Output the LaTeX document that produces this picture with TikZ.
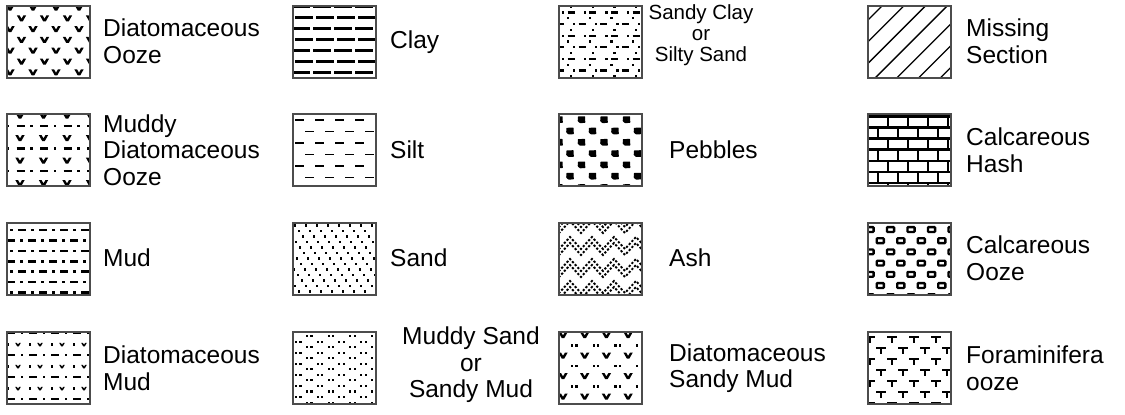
\documentclass[tikz,border=0pt]{standalone}
\usepackage{fontspec}
\setmainfont{Liberation Sans}
\newcommand\bigV[2]{\fill[shift={({#1},{#2})}] (-4.7,-3) -- (-2,-3) -- (0,0.4) -- (2,-3) -- (4.7,-3) -- (1.3,3) -- (-1.3,3) -- cycle;}
\newcommand\smallV[2]{\fill[shift={({#1},{#2})}] (-2.8,-1.6) -- (-1.2,-1.6) -- (0,0.1) -- (1.2,-1.6) -- (2.8,-1.6) -- (0.8,1.8) -- (-0.8,1.8) -- cycle;}
\newcommand\sq[3]{\fill ({#1-#3/2},{#2-#3/2}) rectangle ({#1+#3/2},{#2+#3/2});}
\newcommand\hdash[4]{\draw[line width=#4] ({#1},{#3}) -- ({#2},{#3});}
\newcommand\patin[2]{%
  \begin{scope}
    \clip (#1.north west) rectangle (#1.south east);
    \begin{scope}[shift={(#1.north west)}]#2\end{scope}
  \end{scope}
  \draw[border] (#1.north west) rectangle (#1.south east);}
\tikzset{
  swatch/.style={minimum width=83pt, minimum height=72pt, inner sep=0pt, outer sep=0pt, anchor=north west},
  border/.style={draw=black!70, line width=1.1pt},
  lbl/.style={font=\fontsize{24.5}{26.5}\selectfont, inner sep=0pt, anchor=west, align=left},
  lblc/.style={font=\fontsize{24.5}{26.5}\selectfont, inner sep=0pt, align=center},
  ashline/.style={line width=1.9pt, dash pattern=on 2.2pt off 1.8pt},
}
\begin{document}
\begin{tikzpicture}[x=1pt, y=-1pt]
\useasboundingbox (0,0) rectangle (1125,415);
% swatches
\node[swatch] (s11) at (7,6) {};
\node[swatch] (s12) at (7,114) {};
\node[swatch] (s13) at (7,223) {};
\node[swatch] (s14) at (7,332) {};
\node[swatch] (s21) at (293,6) {};
\node[swatch] (s22) at (293,114) {};
\node[swatch] (s23) at (293,223) {};
\node[swatch] (s24) at (293,332) {};
\node[swatch] (s31) at (559,6) {};
\node[swatch] (s32) at (559,114) {};
\node[swatch] (s33) at (559,223) {};
\node[swatch] (s34) at (559,332) {};
\node[swatch] (s41) at (868,6) {};
\node[swatch] (s42) at (868,114) {};
\node[swatch] (s43) at (868,223) {};
\node[swatch] (s44) at (868,332) {};
% Diatomaceous Ooze
\patin{s11}{\foreach \j in {0,...,7}{\foreach \i in {-1,...,4}{\bigV{\i*23+mod(\j,2)*11.5+3}{\j*10.8+1.5}}}}
% Muddy Diatomaceous Ooze
\patin{s12}{%
  \foreach \j in {0,...,3}{\foreach \i in {-1,...,3}{\bigV{\i*23.5+13}{\j*22.5+1.5}}}
  \foreach \j in {0,1,2}{\foreach \i in {-1,...,3}{\hdash{\i*23.5+9.5}{\i*23.5+17.5}{\j*22.5+12}{2.4pt}\sq{\i*23.5+24.5}{\j*22.5+12}{2.4}}}}
% Mud
\patin{s13}{\foreach \j in {0,...,7}{\foreach \i in {-1,...,4}{%
  \hdash{\i*21+mod(\j,2)*11}{\i*21+mod(\j,2)*11+8}{\j*10.4-3.4}{2.6pt}
  \sq{\i*21+mod(\j,2)*11+14.5}{\j*10.4-3.4}{2.6}}}}
% Diatomaceous Mud
\patin{s14}{%
  \foreach \k in {0,...,3}{\foreach \i in {-1,...,4}{\hdash{\i*22}{\i*22+8}{\k*22+1}{2.4pt}\sq{\i*22+15}{\k*22+1}{2.4}}}
  \foreach \k in {0,1,2}{\foreach \i in {-1,...,4}{\smallV{\i*22+11}{\k*22+12.5}\sq{\i*22+1}{\k*22+12.5}{2.2}}}}
% Clay
\patin{s21}{\foreach \j in {0,...,6}{\foreach \i in {-1,...,4}{%
  \hdash{\i*21+mod(\j,2)*3-1}{\i*21+mod(\j,2)*3+16.5}{\j*11+0.7}{2.5pt}}}}
% Silt
\patin{s22}{\foreach \j in {0,...,6}{\foreach \i in {-1,...,4}{%
  \hdash{\i*20+mod(\j,2)*10+2}{\i*20+mod(\j,2)*10+11}{\j*11.5+6}{1.3pt}}}}
% Sand
\patin{s23}{\foreach \j in {0,...,13}{\foreach \i in {-1,...,7}{\sq{\i*11+mod(\j*4,11)+2}{\j*5.5+2.5}{2.1}}}}
% Muddy Sand
\patin{s24}{\foreach \j in {0,...,12}{\foreach \i in {-1,...,4}{%
  \sq{\i*21.7+mod(\j+1,2)*11+3}{\j*5.55+4}{2.1}\sq{\i*21.7+mod(\j+1,2)*11+7.5}{\j*5.55+4}{2.1}}}}
% Sandy Clay
\patin{s31}{%
  \foreach \j in {0,2,...,12}{\foreach \i in {-1,...,4}{\sq{\i*21.7+12-mod(\j,4)*1.5}{\j*5.8+0.7}{2.2}}}
  \foreach \j in {1,3,...,11}{\foreach \i in {-1,...,4}{%
    \sq{\i*21.7+4+mod(\j-1,4)*5.5}{\j*5.8+0.7}{2.2}
    \hdash{\i*21.7+8.5+mod(\j-1,4)*5.5}{\i*21.7+15.5+mod(\j-1,4)*5.5}{\j*5.8+0.7}{2.2pt}}}}
% Pebbles
\patin{s32}{\foreach \j in {0,...,7}{\foreach \i in {-1,...,4}{%
  \fill[rounded corners=0.5pt, shift={({\i*22.5+11-mod(\j,2)*11},{\j*11.3-5.6})}] (-3.6,-3.2) -- (3.6,-3.4) -- (3.8,3.2) -- (-1.6,3.4) -- (-3.8,1.4) -- cycle;}}}
% Ash
\patin{s33}{\foreach \k in {0,...,4}{%
  \draw[ashline] (-22,{\k*22-8+12}) \foreach \i in {0,...,5}{ -- ({-22+22*\i+11},{\k*22-8}) -- ({-22+22*\i+22},{\k*22-8+12}) };
  \draw[ashline] (-22,{\k*22-2+12}) \foreach \i in {0,...,5}{ -- ({-22+22*\i+11},{\k*22-2}) -- ({-22+22*\i+22},{\k*22-2+12}) };}}
% Diatomaceous Sandy Mud
\patin{s34}{%
  \foreach \k in {0,...,3}{\foreach \i in {-1,...,4}{\bigV{\i*21.7+4}{\k*20.5+3}}}
  \foreach \k in {0,1,2}{\foreach \i in {-1,...,4}{\sq{\i*21.7+13}{\k*20.5+13.5}{2.2}\sq{\i*21.7+17.5}{\k*20.5+13.5}{2.2}}}}
% Missing Section
\patin{s41}{\foreach \k in {-1,...,7}{\draw[line width=1.3pt] ({14+21.7*\k-80},80) -- ({14+21.7*\k+5},-5);}}
% Calcareous Hash
\patin{s42}{%
  \foreach \j in {0,...,6}{\draw[line width=2.4pt] (-2,{2.3+11.1*\j}) -- (90,{2.3+11.1*\j});}
  \foreach \j in {0,...,7}{\foreach \i in {-1,...,4}{\draw[line width=2.4pt] ({\i*20+10*mod(\j+1,2)},{2.3+11.1*(\j-1)}) -- ++(0,11.1);}}}
% Calcareous Ooze
\patin{s43}{\foreach \j in {0,...,6}{\foreach \i in {-1,...,4}{%
  \draw[line width=2.3pt, rounded corners=0.8pt, shift={({\i*20.5+2+mod(\j,2)*10.25},{6.5+11.2*\j})}] (-3.6,-2.4) rectangle (3.6,2.4);}}}
% Foraminifera ooze
\patin{s44}{\foreach \j in {0,...,7}{\foreach \i in {-1,...,4}{%
  \fill ({\i*22+13-mod(\j,2)*11-5},{\j*11-6-1.3}) rectangle ({\i*22+13-mod(\j,2)*11+5},{\j*11-6+1.3});
  \fill ({\i*22+13-mod(\j,2)*11-1.2},{\j*11-6}) rectangle ({\i*22+13-mod(\j,2)*11+1.2},{\j*11-6+5.5});}}}
% labels
\node[lbl] (t11) at (103,41) {Diatomaceous\\Ooze};
\node[lbl] (t12) at (103,150) {Muddy\\Diatomaceous\\Ooze};
\node[lbl] (t13) at (103,258) {Mud};
\node[lbl] (t14) at (103,368) {Diatomaceous\\Mud};
\node[lbl] (t21) at (390,42) {Clay};
\node[lbl] (t22) at (390,150) {Silt};
\node[lbl] (t23) at (390,258) {Sand};
\node[lblc] (t24) at (471,365) {Muddy Sand\\or\\Sandy Mud};
\node[lblc, font=\fontsize{20.5}{20.8}\selectfont] (t31) at (701,35) {Sandy Clay\\or\\Silty Sand};
\node[lbl] (t32) at (669,150) {Pebbles};
\node[lbl] (t33) at (669,258) {Ash};
\node[lbl] (t34) at (669,368) {Diatomaceous\\Sandy Mud};
\node[lbl] (t41) at (966,41) {Missing\\Section};
\node[lbl] (t42) at (966,150) {Calcareous\\Hash};
\node[lbl] (t43) at (966,258) {Calcareous\\Ooze};
\node[lbl] (t44) at (966,368) {Foraminifera\\ooze};
\end{tikzpicture}
\end{document}
